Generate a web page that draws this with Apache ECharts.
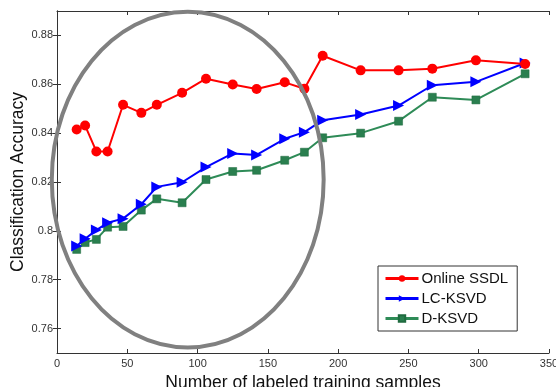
<!DOCTYPE html>
<html>
<head>
<meta charset="utf-8">
<script src="https://cdn.jsdelivr.net/npm/echarts@6/dist/echarts.min.js"></script>
<style>
  html, body { margin: 0; padding: 0; background: #fff; }
  #chart { width: 556px; height: 387px; }
</style>
</head>
<body>
<div id="chart"></div>
<script>
// number of labeled training samples
const samples = [14, 20, 28, 36, 47, 60, 71, 89, 106, 125, 142, 162, 176, 189, 216, 243, 267, 298, 333];
const onlineSSDL = [0.8415, 0.8431, 0.8325, 0.8325, 0.8516, 0.8483, 0.8516, 0.8565, 0.8623, 0.8599, 0.8581,
  0.8608, 0.8582, 0.8717, 0.8657, 0.8657, 0.8664, 0.8698, 0.8683];
const lcKSVD = [0.7938, 0.7968, 0.8003, 0.8033, 0.8050, 0.8109, 0.8180, 0.8199, 0.8261, 0.8317, 0.8311,
  0.8377, 0.8404, 0.8453, 0.8476, 0.8513, 0.8596, 0.8610, 0.8687];
const dKSVD = [0.7924, 0.7952, 0.7965, 0.8015, 0.8018, 0.8085, 0.8131, 0.8115, 0.8210, 0.8243, 0.8248,
  0.8289, 0.8322, 0.8381, 0.8400, 0.8449, 0.8547, 0.8536, 0.8643];
const yTicks = [0.76, 0.78, 0.80, 0.82, 0.84, 0.86, 0.88];
// highlighted region (center and radii in data units)
const ellipseCenter = [93, 0.821];
const ellipseRadius = [96.7, 0.0687];

const pairs = (ys) => samples.map((x, i) => [x, ys[i]]);
const font = 'Liberation Sans, Arial, sans-serif';

const axisCommon = {
  axisLine: { show: true, lineStyle: { color: '#333', width: 1 } },
  axisTick: { show: true, inside: true, length: 4, lineStyle: { color: '#333' } },
  splitLine: { show: false },
};

const option = {
  backgroundColor: '#fff',
  animation: false,
  grid: { left: 57, right: 7, top: 11, bottom: 34, containLabel: false, outerBoundsMode: 'none' },
  legend: {
    orient: 'vertical',
    left: 378,
    top: 266,
    padding: [5, 9, 5, 6],
    itemGap: 5,
    itemWidth: 33,
    itemHeight: 8,
    lineStyle: { width: 3 },
    backgroundColor: '#fff',
    borderColor: '#333',
    borderWidth: 1,
    borderRadius: 0,
    textStyle: { fontFamily: font, fontSize: 15, color: '#111', padding: [0, 0, 0, -2] },
    data: ['Online SSDL', 'LC-KSVD', 'D-KSVD'],
  },
  xAxis: [
    Object.assign({}, axisCommon, {
      type: 'value',
      min: 0,
      max: 350,
      interval: 50,
      name: 'Number of labeled training samples',
      nameLocation: 'middle',
      nameGap: 19,
      nameTextStyle: { fontFamily: font, fontSize: 17.5, color: '#111' },
      axisLabel: { fontFamily: font, fontSize: 11, color: '#333', margin: 5 },
    }),
    Object.assign({}, axisCommon, {
      type: 'value',
      position: 'top',
      min: 0,
      max: 350,
      interval: 50,
      axisLabel: { show: false },
    }),
  ],
  yAxis: [
    Object.assign({}, axisCommon, {
      type: 'value',
      min: 0.75,
      max: 0.89,
      name: 'Classification Accuracy',
      nameLocation: 'middle',
      nameGap: 30,
      nameMoveOverlap: false,
      nameTextStyle: { fontFamily: font, fontSize: 17.5, color: '#111' },
      axisTick: { show: true, inside: true, length: 4, lineStyle: { color: '#333' }, customValues: yTicks },
      axisLabel: {
        fontFamily: font, fontSize: 11, color: '#333', margin: 4,
        customValues: yTicks,
        formatter: (v) => String(+(+v).toFixed(2)),
      },
    }),
    Object.assign({}, axisCommon, {
      type: 'value',
      position: 'right',
      min: 0.75,
      max: 0.89,
      axisTick: { show: true, inside: true, length: 4, lineStyle: { color: '#333' }, customValues: yTicks },
      axisLabel: { show: false, customValues: yTicks },
    }),
  ],
  series: [
    {
      name: 'Online SSDL',
      type: 'line',
      data: pairs(onlineSSDL),
      symbol: 'circle',
      symbolSize: 10,
      itemStyle: { color: '#ff0000' },
      lineStyle: { color: '#ff0000', width: 2 },
      z: 4,
    },
    {
      name: 'LC-KSVD',
      type: 'line',
      data: pairs(lcKSVD),
      symbol: 'triangle',
      symbolSize: 11,
      symbolRotate: -90,
      itemStyle: { color: '#0000ff' },
      lineStyle: { color: '#0000ff', width: 2 },
      z: 3,
    },
    {
      name: 'D-KSVD',
      type: 'line',
      data: pairs(dKSVD),
      symbol: 'rect',
      symbolSize: 8,
      itemStyle: { color: '#2a7f4f', borderColor: '#1f6b3f', borderWidth: 0.5 },
      lineStyle: { color: '#2e8b57', width: 2 },
      z: 2,
    },
    {
      name: 'region',
      type: 'custom',
      data: [ellipseCenter],
      silent: true,
      z: 5,
      renderItem: (params, api) => {
        const c = api.coord([api.value(0), api.value(1)]);
        const r = api.size(ellipseRadius);
        return {
          type: 'ellipse',
          shape: { cx: c[0], cy: c[1], rx: r[0], ry: r[1] },
          style: { fill: 'none', stroke: '#808080', lineWidth: 4 },
        };
      },
    },
  ],
};

const dom = document.getElementById('chart');
const myChart = echarts.init(dom);
myChart.setOption(option);
window.addEventListener('resize', () => {
  myChart.resize();
});
</script>
</body>
</html>
